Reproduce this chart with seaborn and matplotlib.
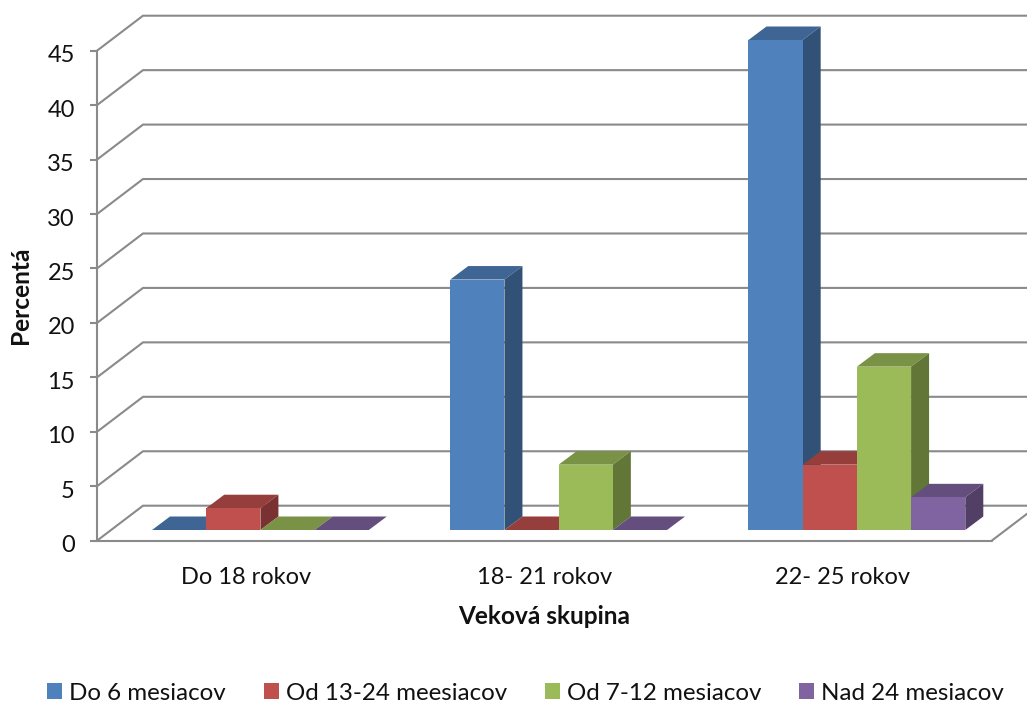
import matplotlib
matplotlib.use("Agg")
import matplotlib.pyplot as plt
from matplotlib.patches import Patch, Polygon
from matplotlib.transforms import Affine2D
from matplotlib.colors import to_rgb
import pandas as pd
import seaborn as sns

categories = ["Do 18 rokov", "18- 21 rokov", "22- 25 rokov"]
series_names = ["Do 6 mesiacov", "Od 13-24 meesiacov", "Od 7-12 mesiacov", "Nad 24 mesiacov"]
do_6 = [0, 23, 45]
od_13_24 = [2, 0, 6]
od_7_12 = [0, 6, 15]
nad_24 = [0, 0, 3]
colors = ["#4F81BD", "#C0504D", "#9BBB59", "#8064A2"]
yticks = list(range(0, 50, 5))

sns.set_theme(style="white")
plt.rcParams["font.family"] = ["Lato", "DejaVu Sans"]
TEXT = "#111111"
GRID = "#8a8a8a"
FS = 17.0
FS_BOLD = 17.6
FS_LEG = 17.4
W, H = 1027, 704

rows = []
for name, vals in zip(series_names, [do_6, od_13_24, od_7_12, nad_24]):
    for c, v in zip(categories, vals):
        rows.append({"cat": c, "series": name, "value": v})
df = pd.DataFrame(rows)

fig = plt.figure(figsize=(W / 100, H / 100), dpi=100, facecolor="white")
L, R, T, B = 97.0, 991.7, 50.7, 540.7
ax = fig.add_axes([L / W, 1 - B / H, (R - L) / W, (B - T) / H])
ax.set_xlim(-0.5, 2.5)
ax.set_ylim(0, 45)
sns.despine(ax=ax, left=True, bottom=True)
ax.patch.set_visible(False)

# back wall, floor and depth lines
DX, DY = 46, 35
back = ax.transData + Affine2D().translate(DX, DY)
for v in yticks:
    p_front = ax.transData.transform((-0.5, v))
    p_left = back.transform((-0.5, v))
    p_right = back.transform((2.5, v))
    xs = [p_front[0], p_left[0], p_right[0]]
    ys = [p_front[1], p_left[1], p_right[1]]
    ax.plot(xs, ys, color=GRID, lw=1.5, transform=None, clip_on=False, zorder=1,
            solid_joinstyle="miter")
ax.plot([-0.5, -0.5], [0, 45], color=GRID, lw=1.5, clip_on=False, zorder=2)
ax.plot([-0.5, 2.5], [0, 0], color=GRID, lw=1.5, clip_on=False, zorder=2)
p0 = ax.transData.transform((2.5, 0))
p1 = back.transform((2.5, 0))
ax.plot([p0[0], p1[0]], [p0[1], p1[1]], color=GRID, lw=1.5, transform=None, clip_on=False, zorder=1)

ax.set_xticks(range(3))
ax.set_xticklabels(categories)
ax.set_yticks(yticks)
ax.tick_params(axis="y", length=5, width=1.5, color=GRID, left=True, labelsize=FS,
               labelcolor=TEXT, pad=11)
ax.tick_params(axis="x", length=0, labelsize=FS, labelcolor=TEXT, pad=19)
ax.set_xlabel("Veková skupina", fontsize=FS_BOLD, fontweight="bold", color=TEXT, labelpad=12)
ax.set_ylabel("Percentá", fontsize=FS_BOLD, fontweight="bold", color=TEXT)
ax.yaxis.set_label_coords((32 - L) / (R - L), 0.5)
for lab in ax.get_yticklabels():
    lab.set_transform(lab.get_transform() + Affine2D().translate(0, -3))

# bars: same scales, shifted into the floor
BX, BY = 14.3, 10.7
bar_ax = fig.add_axes([(L + BX) / W, 1 - (B - BY) / H, (R - L) / W, (B - T) / H])
bar_ax.patch.set_visible(False)
sns.barplot(data=df, x="cat", y="value", hue="series", hue_order=series_names,
            order=categories, palette=colors, saturation=1, width=0.727, gap=0,
            legend=False, ax=bar_ax, linewidth=0)
bar_ax.set_xlim(-0.5, 2.5)
bar_ax.set_ylim(0, 45)
bar_ax.axis("off")

SX, SY = 18, 13.5
for i, cont in enumerate(bar_ax.containers):
    rgb = to_rgb(colors[i])
    side = tuple(c * 0.63 for c in rgb)
    top = tuple(c * 0.78 for c in rgb)
    for bar in cont:
        bar.set_zorder(4 + 2 * i)
        bar.set_clip_on(False)
        x0, w, h = bar.get_x(), bar.get_width(), bar.get_height()
        a = bar_ax.transData.transform((x0, h))
        b = bar_ax.transData.transform((x0 + w, h))
        c = bar_ax.transData.transform((x0 + w, 0))
        top_poly = [a, b, b + (SX, SY), a + (SX, SY)]
        bar_ax.add_patch(Polygon(top_poly, closed=True, facecolor=top, edgecolor="none",
                                 transform=None, clip_on=False, zorder=3 + 2 * i))
        if h > 0:
            side_poly = [c, b, b + (SX, SY), c + (SX, SY)]
            bar_ax.add_patch(Polygon(side_poly, closed=True, facecolor=side, edgecolor="none",
                                     transform=None, clip_on=False, zorder=3 + 2 * i))

handles = [Patch(facecolor=c, edgecolor="none", label=n) for c, n in zip(colors, series_names)]
fig.legend(handles=handles, loc="center", bbox_to_anchor=(525.5 / W, 1 - 693 / H), ncol=4,
           frameon=False, fontsize=FS_LEG, labelcolor=TEXT, handlelength=0.62, handleheight=0.62,
           handletextpad=0.29, columnspacing=1.57, borderpad=0)

fig.savefig("out.png", dpi=100, facecolor="white")
